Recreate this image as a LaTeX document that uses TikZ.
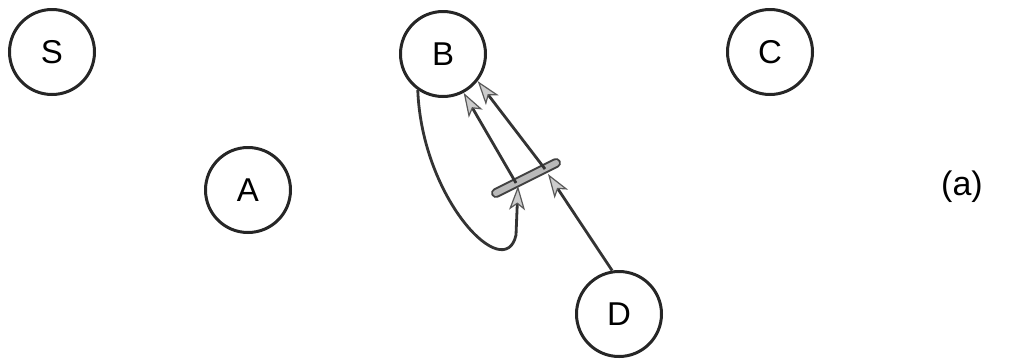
\documentclass[tikz,border=0pt]{standalone}
\usepackage{fontspec}
\setmainfont{Liberation Sans}
\usetikzlibrary{arrows.meta}
\begin{document}
\begin{tikzpicture}[x=1pt,y=-1pt,
  vert/.style={draw=black!85,line width=3pt,circle,minimum size=85pt,inner sep=0pt,font=\fontsize{33}{36}\selectfont},
  edge/.style={draw=black!80,line width=2.8pt},
  tip/.style={-{Stealth[length=24pt,width=16pt,inset=6pt,fill=gray!40,color=black!65,line width=1.2pt]}},
  barout/.style={draw=black!75,line width=10pt,line cap=round},
  barin/.style={draw=gray!55,line width=6pt,line cap=round}]
\useasboundingbox (0,0) rectangle (1022,360);
\node[vert] (S) at (52,52) {S};
\node[vert] (A) at (248,190) {A};
\node[vert] (B) at (443,54) {B};
\node[vert] (C) at (770,52) {C};
\node[vert] (D) at (619,314) {D};
\node[font=\fontsize{34}{38}\selectfont] (lab) at (962,187) {(a)};
\coordinate (b1) at (496,193);
\coordinate (b2) at (556,163);
\coordinate (p1) at (516,183);
\coordinate (p2) at (545,169);
\coordinate (q1) at (518,186);
\coordinate (q2) at (548,174);
\draw[barout] (b1) -- (b2);
\draw[barin] (b1) -- (b2);
\draw[edge,tip] (p1) -- (B.-62);
\draw[edge,tip] (p2) -- (B.-38);
\draw[edge,tip] (D.99) -- (q2);
\draw[edge,tip] (B.-125) .. controls (422,200) and (505,285) .. (516,235) -- (q1);
\end{tikzpicture}
\end{document}
